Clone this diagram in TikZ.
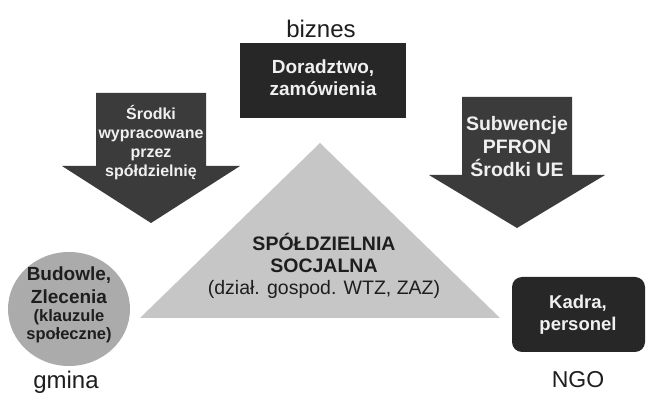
\documentclass[tikz,border=0pt]{standalone}
\usepackage{fontspec}
\setmainfont{Liberation Sans}
\definecolor{arrowgrey}{HTML}{3B3B3B}
\definecolor{boxdark}{HTML}{272727}
\definecolor{trigrey}{HTML}{C6C6C6}
\definecolor{circgrey}{HTML}{ABABAB}
\definecolor{lighttxt}{HTML}{F0F0F0}
\definecolor{darktxt}{HTML}{1E1E1E}
\tikzset{
  lbl/.style={font=\fontsize{24}{26}\selectfont, text=darktxt, anchor=base, inner sep=0pt},
  wtxt/.style={text=lighttxt, align=center, inner sep=0pt},
  btxt/.style={text=darktxt, align=center, inner sep=0pt},
}
\begin{document}
\begin{tikzpicture}[x=1pt,y=-1pt]
\useasboundingbox (0,0) rectangle (649,403);
\fill[white] (0,0) rectangle (649,403);

% labels
\node[lbl] (biznes) at (321,38) {biznes};
\node[lbl] (gmina) at (66,389) {gmina};
\node[lbl, font=\fontsize{23}{25}\selectfont] (ngo) at (578,388) {NGO};

% top box
\fill[boxdark] (240,43) rectangle (406,118);
\node[wtxt, font=\bfseries\fontsize{19}{22}\selectfont] (dor) at (323,78) {Doradztwo,\\zamówienia};

% left arrow
\fill[arrowgrey] (96,93) -- (206,93) -- (206,166) -- (240,166) -- (151,223) -- (62,166) -- (96,166) -- cycle;
\node[wtxt, font=\bfseries\fontsize{16}{19}\selectfont] (srodki) at (151,143) {Środki\\wypracowane\\przez\\spółdzielnię};

% right arrow
\fill[arrowgrey] (462,97) -- (572,97) -- (572,175) -- (605,175) -- (517,228) -- (429,175) -- (462,175) -- cycle;
\node[wtxt, font=\bfseries\fontsize{19.5}{23}\selectfont] (subw) at (517,147) {Subwencje\\PFRON\\Środki UE};

% triangle
\fill[trigrey] (320,143) -- (500,318) -- (140,318) -- cycle;
\node[btxt, font=\fontsize{19.5}{22}\selectfont] (spol) at (324,266) {\textbf{SPÓŁDZIELNIA}\\\textbf{SOCJALNA}\\(dział. gospod. WTZ, ZAZ)};

% circle
\fill[circgrey] (69,309) ellipse [x radius=61, y radius=57];
\node[btxt, font=\bfseries\fontsize{19}{23}\selectfont] (bud) at (69,285) {Budowle,\\Zlecenia};
\node[btxt, font=\bfseries\fontsize{16.5}{18}\selectfont] (klau) at (69,326) {(klauzule\\społeczne)};

% right box
\fill[boxdark, rounded corners=10pt] (512,277) rectangle (645,352);
\node[wtxt, font=\bfseries\fontsize{18.5}{22}\selectfont] (kadra) at (578,315) {Kadra,\\personel};
\end{tikzpicture}
\end{document}
